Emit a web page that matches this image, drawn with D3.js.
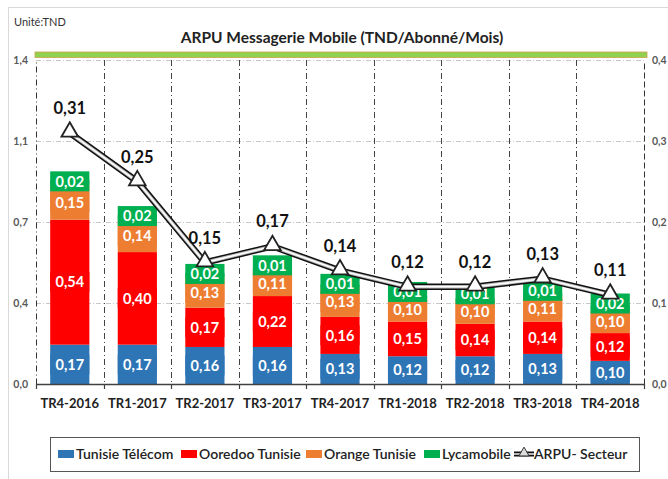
<!DOCTYPE html>
<html><head><meta charset="utf-8">
<script src="https://cdn.jsdelivr.net/npm/d3@7"></script>
<style>body{margin:0;background:#fff}svg{display:block}</style>
</head><body>
<svg id="chart" width="668" height="479"></svg>
<script>
const categories = ["TR4-2016","TR1-2017","TR2-2017","TR3-2017","TR4-2017","TR1-2018","TR2-2018","TR3-2018","TR4-2018"];
const seriesNames = ["Tunisie Télécom","Ooredoo Tunisie","Orange Tunisie","Lycamobile"];
const lineName = "ARPU- Secteur";
const tunisieTelecom = [0.17,0.17,0.16,0.16,0.13,0.12,0.12,0.13,0.10];
const ooredoo        = [0.54,0.40,0.17,0.22,0.16,0.15,0.14,0.14,0.12];
const orange         = [0.15,0.14,0.13,0.11,0.13,0.10,0.10,0.11,0.10];
const lycamobile     = [0.02,0.02,0.02,0.01,0.01,0.01,0.01,0.01,0.02];
const arpuSecteur    = [0.31,0.25,0.15,0.17,0.14,0.12,0.12,0.13,0.11];
const leftTicks  = [0, 0.35, 0.7, 1.05, 1.4];
const leftTickLabels = ["0,0","0,4","0,7","1,1","1,4"];
const rightTicks = [0, 0.1, 0.2, 0.3, 0.4];
const rightTickLabels = ["0,0","0,1","0,2","0,3","0,4"];
const colors = ["#2E75B6","#FF0000","#ED7D31","#00B050"];

const svg = d3.select("#chart");
const font = "Lato, 'Open Sans', sans-serif";
const fmt = v => d3.format(".2f")(v).replace(".", ",");

// outer frame
svg.append("rect").attr("x",8.5).attr("y",7.5).attr("width",700).attr("height",500)
  .attr("fill","none").attr("stroke","#d9d9d9");

svg.append("text").attr("x",14).attr("y",26).attr("font-family",font).attr("font-size",11)
  .attr("fill","#333").text("Unité:TND");
svg.append("text").attr("x",342).attr("y",43).attr("text-anchor","middle").attr("font-family",font)
  .attr("font-size",15.5).attr("font-weight",700).attr("fill","#222").text("ARPU Messagerie Mobile (TND/Abonné/Mois)");

const m = {l:36, r:644, t:60, b:384};
const x = d3.scaleBand().domain(categories).range([m.l, m.r]).paddingInner(0.42).paddingOuter(0.21);
const xb = d3.scaleBand().domain(categories).range([m.l, m.r]);
const yL = d3.scaleLinear().domain([0,1.4]).range([m.b, m.t]);
const yR = d3.scaleLinear().domain([0,0.4]).range([m.b, m.t]);

// top green band
svg.append("rect").attr("x",35).attr("y",52).attr("width",612).attr("height",5.5)
  .attr("fill","#92D050").attr("stroke","#C9A54A").attr("stroke-width",0.8);

// gridlines
svg.append("g").selectAll("line").data(leftTicks.slice(1)).join("line")
  .attr("x1",m.l).attr("x2",m.r).attr("y1",d=>Math.round(yL(d))+0.5).attr("y2",d=>Math.round(yL(d))+0.5)
  .attr("stroke","#c8c8c8").attr("stroke-dasharray","5,2,1,2");

// vertical dividers
const bounds = categories.slice(1).map(c => xb(c));
svg.append("g").selectAll("line").data(bounds).join("line")
  .attr("x1",d=>Math.round(d)+0.5).attr("x2",d=>Math.round(d)+0.5).attr("y1",m.t).attr("y2",m.b)
  .attr("stroke","#444").attr("stroke-width",1).attr("stroke-dasharray","6,3,1,3");

// left and right axes
const axisL = d3.axisLeft(yL).tickValues(leftTicks).tickSize(0).tickPadding(8).tickFormat((d,i)=>leftTickLabels[i]);
const gL = svg.append("g").attr("transform",`translate(${m.l},0)`).call(axisL);
gL.select(".domain").attr("stroke","#333").attr("stroke-dasharray","6,3,1,3");
gL.selectAll("text").attr("font-family",font).attr("font-size",10.5).attr("font-weight",700).attr("fill","#595959");

const axisR = d3.axisRight(yR).tickValues(rightTicks).tickSize(0).tickPadding(8).tickFormat((d,i)=>rightTickLabels[i]);
const gR = svg.append("g").attr("transform",`translate(${m.r},0)`).call(axisR);
gR.select(".domain").attr("stroke","#333").attr("stroke-dasharray","6,3");
gR.selectAll("text").attr("font-family",font).attr("font-size",10.5).attr("font-weight",700).attr("fill","#595959");

// bars
const rows = categories.map((c,i)=>({cat:c, s0:tunisieTelecom[i], s1:ooredoo[i], s2:orange[i], s3:lycamobile[i]}));
const stack = d3.stack().keys(["s0","s1","s2","s3"])(rows);
const bw = x.bandwidth();
stack.forEach((layer,k)=>{
  svg.append("g").selectAll("rect").data(layer).join("rect")
    .attr("x",d=>x(d.data.cat)).attr("width",bw)
    .attr("y",d=>yL(d[1])).attr("height",d=>yL(d[0])-yL(d[1]))
    .attr("fill",colors[k]);
});
// label positions (pushed up to avoid overlap)
const labelPos = categories.map((c,i)=>{
  const ys = [];
  for(let k=0;k<4;k++){
    const d = stack[k][i];
    let cy = (yL(d[0])+yL(d[1]))/2;
    if(k===3) cy = yL(d[1]) + 1;
    if(k>0) cy = Math.min(cy, ys[k-1]-18);
    ys.push(cy);
  }
  return ys;
});
stack.forEach((layer,k)=>{
  const g = svg.append("g").selectAll("g").data(layer).join("g")
    .attr("transform",(d,i)=>`translate(${x(d.data.cat)+bw/2},${labelPos[i][k]})`);
  g.append("rect").attr("x",-bw/2).attr("y",-10).attr("width",bw).attr("height",20).attr("fill",colors[k]);
  g.append("text").attr("text-anchor","middle").attr("dy","0.36em").attr("font-family",font)
    .attr("font-size",14.5).attr("font-weight",700).attr("fill","#fff").text(d=>fmt(d[1]-d[0]));
});

// x axis
const axisB = d3.axisBottom(xb).tickSize(0).tickPadding(15);
const gB = svg.append("g").attr("transform",`translate(0,${m.b})`).call(axisB);
gB.select(".domain").attr("stroke","#404040").attr("stroke-width",1.5);
gB.selectAll("text").attr("font-family",font).attr("font-size",13).attr("font-weight",700).attr("fill","#222");
svg.append("g").selectAll("line").data([m.l, ...bounds, m.r]).join("line")
  .attr("x1",d=>Math.round(d)+0.5).attr("x2",d=>Math.round(d)+0.5).attr("y1",m.b).attr("y2",m.b+5)
  .attr("stroke","#404040").attr("stroke-width",1.2);

// ARPU line
const pts = categories.map((c,i)=>[xb(c)+xb.bandwidth()/2, yR(arpuSecteur[i])]);
const line = d3.line();
svg.append("path").attr("d",line(pts)).attr("fill","none").attr("stroke","#111").attr("stroke-width",6.5);
svg.append("path").attr("d",line(pts)).attr("fill","none").attr("stroke","#bbb").attr("stroke-width",3.5);
svg.append("path").attr("d",line(pts)).attr("fill","none").attr("stroke","#fff").attr("stroke-width",1.6);
const tri = d3.symbol().type(d3.symbolTriangle).size(120);
svg.append("g").selectAll("path").data(pts).join("path")
  .attr("d",tri).attr("transform",d=>`translate(${d[0]},${d[1]-1})`)
  .attr("fill","#fff").attr("stroke","#222").attr("stroke-width",1.8);
svg.append("g").selectAll("text").data(pts).join("text")
  .attr("x",d=>d[0]).attr("y",d=>d[1]-19).attr("text-anchor","middle").attr("font-family",font)
  .attr("font-size",16.5).attr("font-weight",700).attr("fill","#111").text((d,i)=>fmt(arpuSecteur[i]));

// legend
svg.append("rect").attr("x",50.5).attr("y",437.5).attr("width",589).attr("height",34)
  .attr("fill","#fff").attr("stroke","#555");
const legX = [58, 181, 306, 424];
seriesNames.forEach((name,k)=>{
  svg.append("rect").attr("x",legX[k]).attr("y",450).attr("width",16).attr("height",8).attr("fill",colors[k]);
  svg.append("text").attr("x",legX[k]+18).attr("y",459).attr("font-family",font).attr("font-size",14)
    .attr("font-weight",600).attr("fill","#222").text(name);
});
const lx = 514;
svg.append("line").attr("x1",lx).attr("x2",lx+20).attr("y1",454).attr("y2",454).attr("stroke","#111").attr("stroke-width",5);
svg.append("line").attr("x1",lx).attr("x2",lx+20).attr("y1",454).attr("y2",454).attr("stroke","#fff").attr("stroke-width",1.4);
svg.append("path").attr("d",d3.symbol().type(d3.symbolTriangle).size(45)).attr("transform",`translate(${lx+10},453)`)
  .attr("fill","#ddd").attr("stroke","#333").attr("stroke-width",1);
svg.append("text").attr("x",lx+20).attr("y",459).attr("font-family",font).attr("font-size",14)
  .attr("font-weight",600).attr("fill","#222").text(lineName);
</script>
</body></html>
